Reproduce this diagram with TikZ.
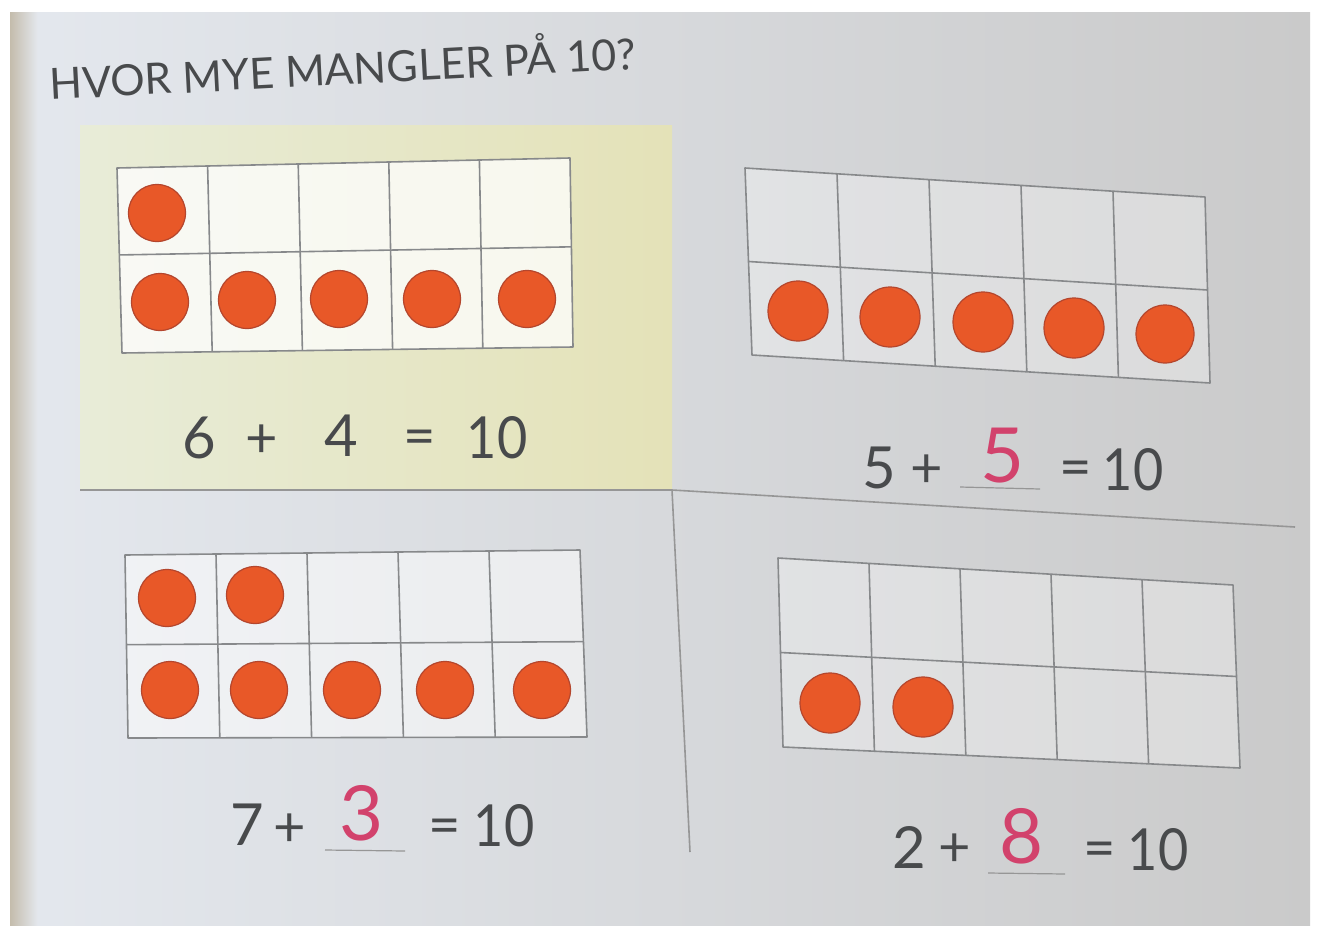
\documentclass[tikz,border=0pt]{standalone}
\usepackage{fontspec}
\setmainfont{Lato}
\usetikzlibrary{calc}
\definecolor{bgL}{RGB}{228,232,238}
\definecolor{bgM}{RGB}{216,218,221}
\definecolor{bgR}{RGB}{202,202,202}
\definecolor{pageedge}{RGB}{196,188,172}
\definecolor{ylL}{RGB}{232,236,216}
\definecolor{ylR}{RGB}{228,226,184}
\definecolor{gridc}{RGB}{135,137,139}
\definecolor{dotc}{RGB}{232,88,40}
\definecolor{dotedge}{RGB}{180,70,45}
\definecolor{ink}{RGB}{72,74,76}
\definecolor{redink}{RGB}{210,66,108}
\definecolor{divc}{RGB}{150,150,150}
\newcommand{\tenframe}[7]{%
  \coordinate (#1A) at #2; \coordinate (#1B) at #3;
  \coordinate (#1C) at #4; \coordinate (#1D) at #5;
  \fill[white,opacity=#7] (#1A)--(#1B)--(#1C)--(#1D)--cycle;
  \foreach \i in {1,...,4}{\draw[gridline] ($(#1A)!\i/5!(#1B)$) -- ($(#1D)!\i/5!(#1C)$);}
  \draw[gridline] ($(#1A)!#6!(#1D)$) -- ($(#1B)!#6!(#1C)$);
  \draw[gridline] (#1A)--(#1B)--(#1C)--(#1D)--cycle;
}
\begin{document}
\begin{tikzpicture}[x=1pt,y=-1pt,
  gridline/.style={draw=gridc,line width=1.6pt,line join=round},
  dot/.style={circle,fill=dotc,draw=dotedge,line width=1.2pt,minimum size=57pt,inner sep=0pt},
  glyph/.style={text=ink,inner sep=0pt,font=\fontsize{58}{58}\selectfont},
  tens/.style={glyph,xscale=0.9},
  oper/.style={text=ink,inner sep=0pt,font=\fontsize{56}{56}\selectfont},
  answer/.style={text=redink,inner sep=0pt,font=\fontsize{76}{76}\selectfont},
  answerline/.style={draw=divc,line width=1.2pt},
  divider/.style={draw=divc,line width=1.6pt},
  title/.style={text=ink,inner sep=0pt,font=\fontsize{43}{43}\selectfont}]
\useasboundingbox (0,0) rectangle (1321,937);
\fill[white] (0,0) rectangle (1321,937);
\shade[left color=bgL,middle color=bgM,right color=bgR] (10,12) rectangle (1310,925);
\shade[left color=pageedge,right color=bgL] (10,12) rectangle (38,925);
% yellow panel
\shade[left color=ylL,right color=ylR] (80,125) rectangle (672,490);
% dividers
\coordinate (hl) at (80,490);
\coordinate (hm) at (672,490);
\coordinate (hr) at (1295,527);
\coordinate (vb) at (690,852);
\draw[divider] (hl) -- (hm) -- (hr);
\draw[divider] (hm) -- (vb);
% title
\node[title,anchor=base west,rotate=3] (title) at (50,100) {HVOR MYE MANGLER PÅ 10?};
% frames
\tenframe{f1}{(117,168)}{(570,158)}{(573,347)}{(122,353)}{0.47}{0.75}
\tenframe{f2}{(745,168)}{(1205,197)}{(1210,383)}{(752,355)}{0.5}{0.3}
\tenframe{f3}{(125,555)}{(580,550)}{(587,737)}{(128,738)}{0.49}{0.5}
\tenframe{f4}{(778,558)}{(1233,585)}{(1240,768)}{(783,747)}{0.5}{0.3}
% dots frame 1
\node[dot] (d11) at (157,213) {};
\node[dot] (d12) at (160,302) {};
\node[dot] (d13) at (247,300) {};
\node[dot] (d14) at (339,299) {};
\node[dot] (d15) at (432,299) {};
\node[dot] (d16) at (527,299) {};
% dots frame 2
\node[dot,minimum size=60pt] (d21) at (798,311) {};
\node[dot,minimum size=60pt] (d22) at (890,317) {};
\node[dot,minimum size=60pt] (d23) at (983,322) {};
\node[dot,minimum size=60pt] (d24) at (1074,328) {};
\node[dot,minimum size=58pt] (d25) at (1165,334) {};
% dots frame 3
\node[dot] (d31) at (167,598) {};
\node[dot] (d32) at (255,595) {};
\node[dot] (d33) at (170,690) {};
\node[dot] (d34) at (259,690) {};
\node[dot] (d35) at (352,690) {};
\node[dot] (d36) at (445,690) {};
\node[dot] (d37) at (542,690) {};
% dots frame 4
\node[dot,minimum size=60pt] (d41) at (830,703) {};
\node[dot,minimum size=60pt] (d42) at (923,707) {};
% equation 1
\node[glyph] (e1a) at (199,438) {6};
\node[oper]  (e1p) at (262,441) {+};
\node[glyph] (e1b) at (341,436) {4};
\node[oper]  (e1e) at (420,443) {=};
\node[tens] (e1c) at (497,438) {10};
% equation 2
\node[glyph] (e2a) at (879,468) {5};
\node[oper]  (e2p) at (927,471) {+};
\node[answer] (e2b) at (1003,456) {5};
\coordinate (u2a) at (960,487); \coordinate (u2b) at (1040,489);
\draw[answerline] (u2a) -- (u2b);
\node[oper]  (e2e) at (1076,474) {=};
\node[tens] (e2c) at (1133,470) {10};
% equation 3
\node[glyph] (e3a) at (247,825) {7};
\node[oper]  (e3p) at (290,830) {+};
\node[answer] (e3b) at (362,813) {3};
\coordinate (u3a) at (325,850); \coordinate (u3b) at (405,851);
\draw[answerline] (u3a) -- (u3b);
\node[oper]  (e3e) at (445,832) {=};
\node[tens] (e3c) at (504,826) {10};
% equation 4
\node[glyph] (e4a) at (909,847) {2};
\node[oper]  (e4p) at (955,850) {+};
\node[answer] (e4b) at (1022,836) {8};
\coordinate (u4a) at (988,873); \coordinate (u4b) at (1065,874);
\draw[answerline] (u4a) -- (u4b);
\node[oper]  (e4e) at (1100,855) {=};
\node[tens] (e4c) at (1158,850) {10};
\end{tikzpicture}
\end{document}
